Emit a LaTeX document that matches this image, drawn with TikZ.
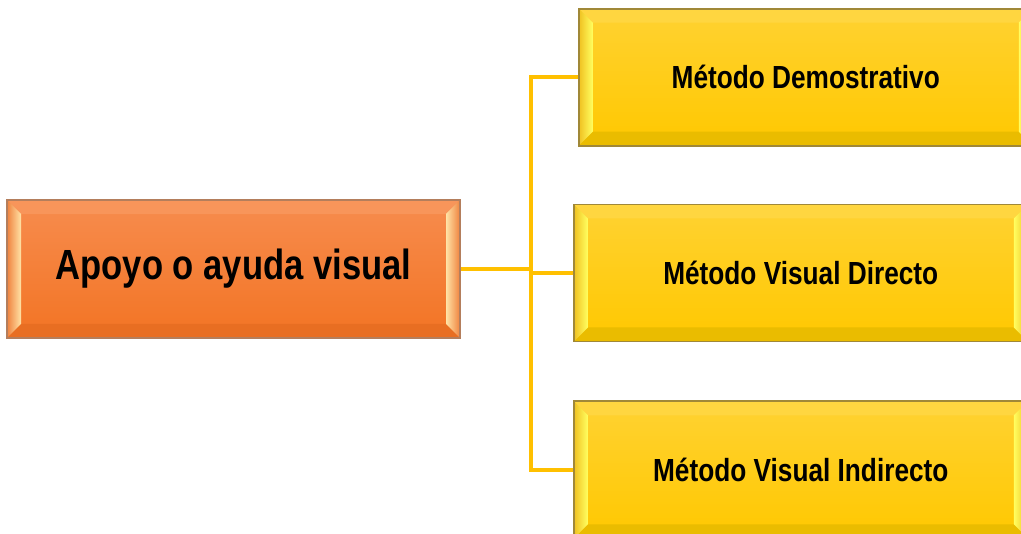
\documentclass[tikz,border=0pt]{standalone}
\usepackage{fontspec}
\setmainfont{Liberation Sans}[FakeStretch=0.82]
\usetikzlibrary{positioning}

\definecolor{mainTop}{HTML}{F78C4E}
\definecolor{mainBot}{HTML}{F27424}
\definecolor{mainStripTop}{HTML}{F8955A}
\definecolor{mainStripBot}{HTML}{E86E22}
\definecolor{mainLight}{HTML}{FFE3A6}
\definecolor{mainEdge}{HTML}{F0823E}
\definecolor{mainLine}{HTML}{B47E5C}
\definecolor{yelTop}{HTML}{FFD232}
\definecolor{yelBot}{HTML}{FFC800}
\definecolor{yelStripTop}{HTML}{FFD640}
\definecolor{yelStripBot}{HTML}{EABC00}
\definecolor{yelLight}{HTML}{FFFF60}
\definecolor{yelEdge}{HTML}{F0C020}
\definecolor{yelLine}{HTML}{A08838}
\definecolor{linkYellow}{HTML}{FFC000}

\newcommand{\bv}{0.14cm}
% bevel: side light, top strip, bottom strip, side outer
\newcommand{\bevel}[4]{%
  \coordinate (bnw) at (path picture bounding box.north west);
  \coordinate (bne) at (path picture bounding box.north east);
  \coordinate (bsw) at (path picture bounding box.south west);
  \coordinate (bse) at (path picture bounding box.south east);
  \fill[#2] (bnw) -- (bne) -- ([shift={(-\bv,-\bv)}]bne) -- ([shift={(\bv,-\bv)}]bnw) -- cycle;
  \fill[#3] (bsw) -- (bse) -- ([shift={(-\bv,\bv)}]bse) -- ([shift={(\bv,\bv)}]bsw) -- cycle;
  \shade[left color=#4, right color=#1] (bnw) -- ([shift={(\bv,-\bv)}]bnw) -- ([shift={(\bv,\bv)}]bsw) -- (bsw) -- cycle;
  \shade[left color=#1, right color=#4] (bne) -- ([shift={(-\bv,-\bv)}]bne) -- ([shift={(-\bv,\bv)}]bse) -- (bse) -- cycle;
}

\tikzset{
  mainbox/.style={rectangle, draw=mainLine, line width=0.5pt, inner sep=0pt,
    minimum width=4.53cm, minimum height=1.38cm, top color=mainTop, bottom color=mainBot,
    font=\bfseries\fontsize{12}{14}\selectfont,
    path picture={\bevel{mainLight}{mainStripTop}{mainStripBot}{mainEdge}}},
  methodbox/.style={rectangle, draw=yelLine, line width=0.5pt, inner sep=0pt,
    minimum width=4.54cm, minimum height=1.37cm, top color=yelTop, bottom color=yelBot,
    font=\bfseries\fontsize{9.1}{11}\selectfont,
    path picture={\bevel{yelLight}{yelStripTop}{yelStripBot}{yelEdge}}},
  link/.style={draw=linkYellow, line width=1pt}
}

\begin{document}
\begin{tikzpicture}
  \useasboundingbox (0,0) rectangle (10.21,5.34);

  % Nodes
  \node[mainbox] (main) at (2.335,2.65) {Apoyo o ayuda visual};
  \node[methodbox, right=1.12cm of main, yshift=-0.04cm] (direct) {Método Visual Directo};
  \node[methodbox, above=0.57cm of direct, xshift=0.05cm] (demo) {Método Demostrativo};
  \node[methodbox, below=0.58cm of direct] (indirect) {Método Visual Indirecto};

  % Connectors
  \coordinate (hub) at ([xshift=0.7cm]main.east);
  \draw[link] (main.east) -- (hub) |- (demo.west);
  \draw[link] (hub) |- (direct.west);
  \draw[link] (hub) |- (indirect.west);
\end{tikzpicture}
\end{document}
